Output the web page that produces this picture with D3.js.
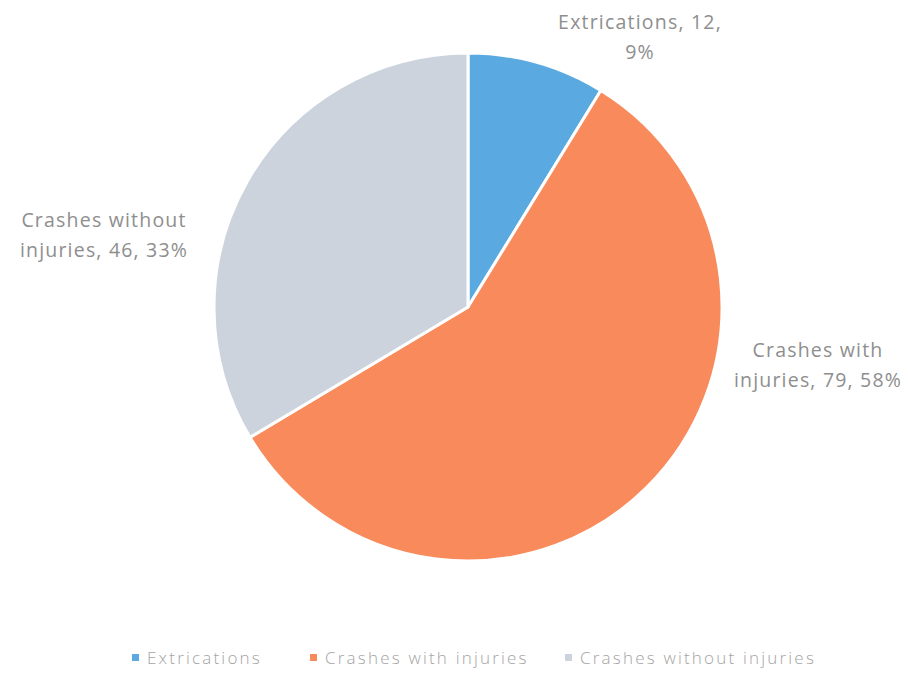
<!DOCTYPE html>
<html>
<head>
<meta charset="utf-8">
<script src="https://cdn.jsdelivr.net/npm/d3@7"></script>
<style>
  body { margin: 0; background: #fff; }
  text { font-family: "Open Sans", sans-serif; }
</style>
</head>
<body>
<div id="chart"></div>
<script>
// data
let categories = ["Extrications", "Crashes with injuries", "Crashes without injuries"];
let values = [12, 79, 46];
let percents = ["9%", "58%", "33%"];
let colors = ["#5aa9e0", "#f98a5c", "#cdd3dd"];

// label text lines (wrapped like the original)
let labelLines = [
  ["Extrications, 12,", "9%"],
  ["Crashes with", "injuries, 79, 58%"],
  ["Crashes without", "injuries, 46, 33%"]
];

let width = 908,
height = 675,
cx = 468,
cy = 307,
radius = 254;

let svg = d3.select("#chart")
  .append("svg")
  .attr("width", width)
  .attr("height", height);

let pie = d3.pie().sort(null).value(d => d);
let arc = d3.arc().innerRadius(0).outerRadius(radius);
let arcs = pie(values);

let g = svg.append("g").attr("transform", `translate(${cx},${cy})`);

g.selectAll("path")
  .data(arcs)
  .join("path")
  .attr("d", arc)
  .attr("fill", (d, i) => colors[i])
  .attr("stroke", "#fff")
  .attr("stroke-width", 3)
  .attr("stroke-linejoin", "round");

// label block centres (relative to pie centre), placed like Excel's best fit
let labelPos = [[172, -278], [350, 50], [-364, -80]];

let labels = svg.append("g").attr("transform", `translate(${cx},${cy})`);
labels.selectAll("text")
  .data(arcs)
  .join("text")
  .attr("text-anchor", "middle")
  .attr("fill", "#8e8e8e")
  .style("font-size", "19.5px")
  .style("letter-spacing", "1.2px")
  .each(function (d, i) {
    let t = d3.select(this);
    labelLines[i].forEach((line, k) => {
      t.append("tspan")
        .attr("x", labelPos[i][0])
        .attr("y", labelPos[i][1] + k * 30)
        .text(line);
    });
  });

// legend
let legendX = [132, 310, 565];
let legend = svg.append("g").attr("transform", "translate(0,658)");
let item = legend.selectAll("g")
  .data(categories)
  .join("g")
  .attr("transform", (d, i) => `translate(${legendX[i]},0)`);

item.append("rect")
  .attr("x", 0)
  .attr("y", -4)
  .attr("width", 7)
  .attr("height", 7)
  .attr("fill", (d, i) => colors[i]);

item.append("text")
  .attr("x", 15)
  .attr("y", 0)
  .attr("dy", "0.35em")
  .attr("fill", "#a4a4a4")
  .style("font-size", "17px")
  .style("font-weight", "300")
  .style("letter-spacing", "2.2px")
  .text(d => d);
</script>
</body>
</html>
